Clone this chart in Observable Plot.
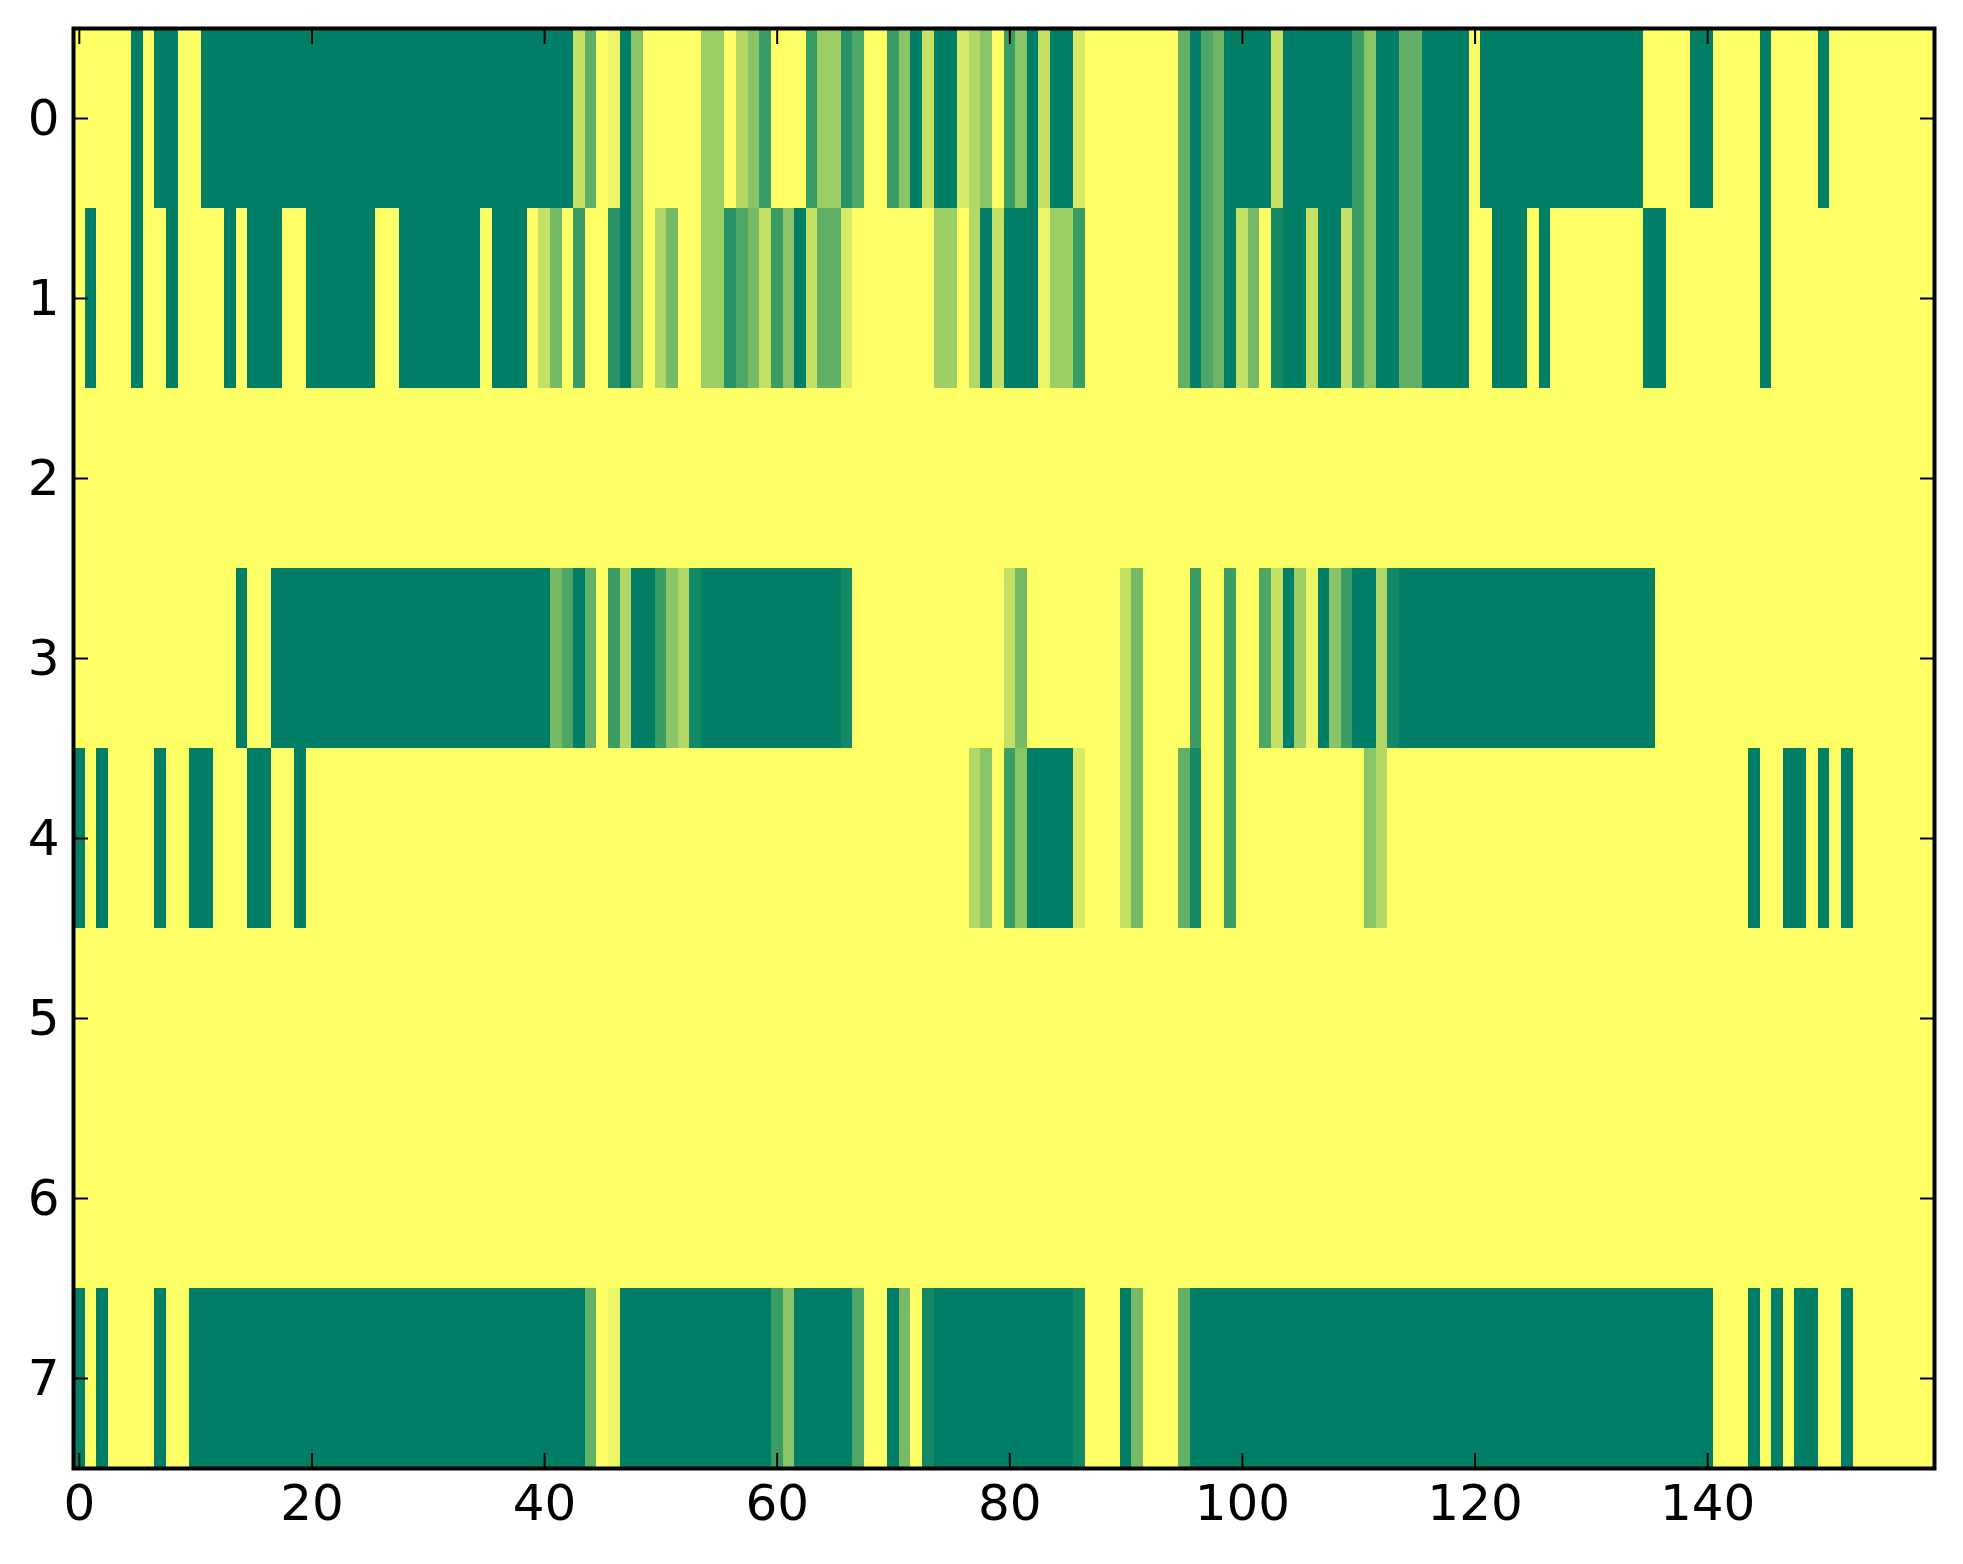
<!DOCTYPE html>
<html>
<head>
<meta charset="utf-8">
<style>
html,body{margin:0;padding:0;background:#fff;}
svg{display:block;}
</style>
<script src="https://cdn.jsdelivr.net/npm/d3@7"></script>
<script src="https://cdn.jsdelivr.net/npm/@observablehq/plot@0.6"></script>
</head>
<body>
<div id="chart"></div>
<script>
// Each run: [first column, last column, level]. Columns not listed are 0.
const row0 = [[5,5,13],[7,8,13],[11,42,13],[43,43,3],[44,44,8],[46,46,1],[47,47,13],[48,48,6],[54,55,5],[57,57,4],[58,58,6],[59,59,10],[63,63,10],[64,65,5],[66,66,11],[67,67,9],[70,70,10],[71,71,6],[72,72,13],[73,73,3],[74,75,13],[76,76,2],[77,77,4],[78,78,6],[80,80,10],[81,81,6],[82,82,13],[83,83,3],[84,85,13],[86,86,2],[95,95,8],[96,96,13],[97,97,9],[98,98,7.5],[99,102,13],[103,103,3],[104,109,13],[110,110,10],[111,111,6],[112,113,13],[114,115,8],[116,119,13],[121,134,13],[139,140,13],[145,145,13],[150,150,13]];
const row1 = [[1,1,13],[5,5,13],[8,8,13],[13,13,13],[15,17,13],[20,25,13],[28,34,13],[36,38,13],[40,40,3],[41,41,7],[43,43,10],[46,46,11],[47,47,13],[48,48,6],[50,50,4],[51,51,7],[54,55,5],[56,56,11],[57,57,9],[58,58,7],[59,59,3],[60,60,10],[61,61,6],[62,62,13],[63,63,3],[64,65,8],[66,66,2],[74,75,5],[77,77,4],[78,78,13],[79,79,3],[80,82,13],[83,83,1],[84,85,5],[86,86,10],[95,95,8],[96,96,13],[97,97,9],[98,98,7.5],[99,99,13],[100,100,3],[101,101,7],[103,103,12],[104,105,13],[106,106,3],[107,108,13],[109,109,3],[110,110,10],[111,111,6],[112,113,13],[114,115,8],[116,119,13],[122,124,13],[126,126,13],[135,136,13],[145,145,13]];
const row2 = [];
const row3 = [[14,14,13],[17,40,13],[41,41,7],[42,42,9],[43,43,13],[44,44,8],[46,46,10],[47,47,4],[48,49,13],[50,50,10],[51,51,6],[52,52,4],[53,53,12],[54,65,13],[66,66,12],[80,80,3],[81,81,7],[90,90,3],[91,91,7],[96,96,10],[99,99,10],[102,102,9],[103,103,3],[104,104,13],[105,105,5],[106,106,1],[107,107,13],[108,108,6],[109,109,10],[110,111,13],[112,112,4],[113,113,12],[114,135,13]];
const row4 = [[0,0,13],[2,2,13],[7,7,13],[10,11,13],[15,16,13],[19,19,13],[77,77,4],[78,78,6],[80,80,10],[81,81,6],[82,85,13],[86,86,2],[90,90,3],[91,91,7],[95,95,8],[96,96,12],[99,99,10],[111,111,6],[112,112,4],[144,144,13],[147,148,13],[150,150,13],[152,152,13]];
const row5 = [];
const row6 = [];
const row7 = [[0,0,13],[2,2,13],[7,7,13],[10,43,13],[44,44,8],[46,46,1],[47,59,13],[60,60,10],[61,61,6],[62,66,13],[67,67,9],[70,70,13],[71,71,7],[73,73,12],[74,85,13],[86,86,12],[90,90,13],[91,91,7],[95,95,8],[96,140,13],[144,144,13],[146,146,13],[148,149,13],[152,152,13]];
const rows = [row0,row1,row2,row3,row4,row5,row6,row7];
const columnCount = 160;
const xTicks = [0,20,40,60,80,100,120,140];
const yTicks = [0,1,2,3,4,5,6,7];
const maxLevel = 13;

const cells = [];
rows.forEach((runs, row) => {
  const levels = new Array(columnCount).fill(0);
  runs.forEach(([a, b, v]) => { for (let c = a; c <= b; c++) levels[c] = v; });
  levels.forEach((level, column) => cells.push({row, column, level}));
});

const tick = 15, pad = 14, fs = 50;
const plot = Plot.plot({
  width: 1963,
  height: 1564,
  marginLeft: 73,
  marginRight: 29,
  marginTop: 28,
  marginBottom: 96,
  style: {fontFamily: "'DejaVu Sans', sans-serif", background: "#fff", color: "#000"},
  x: {domain: [-0.5, 159.5], label: null},
  y: {domain: [-0.5, 7.5], reverse: true, label: null},
  color: {type: "linear", domain: [0, maxLevel], range: ["#ffff66", "#007f66"]},
  marks: [
    Plot.rect(cells, {
      x1: d => d.column - 0.5,
      x2: d => d.column + 0.5,
      y1: d => d.row - 0.5,
      y2: d => d.row + 0.5,
      fill: "level",
      shapeRendering: "crispEdges"
    }),
    Plot.axisX({anchor: "bottom", ticks: xTicks, tickSize: -tick, tickPadding: tick + pad + 2, strokeWidth: 2, fontSize: fs, label: null, tickFormat: d => String(d)}),
    Plot.axisX({anchor: "top", ticks: xTicks, tickSize: -tick, strokeWidth: 2, label: null, tickFormat: () => ""}),
    Plot.axisY({anchor: "left", ticks: yTicks, tickSize: -tick, tickPadding: tick + pad, strokeWidth: 2, fontSize: fs, label: null, tickFormat: d => String(d)}),
    Plot.axisY({anchor: "right", ticks: yTicks, tickSize: -tick, strokeWidth: 2, label: null, tickFormat: () => ""}),
    Plot.frame({stroke: "#000", strokeWidth: 4, fill: "none"})
  ]
});
document.getElementById("chart").appendChild(plot);
</script>
</body>
</html>
